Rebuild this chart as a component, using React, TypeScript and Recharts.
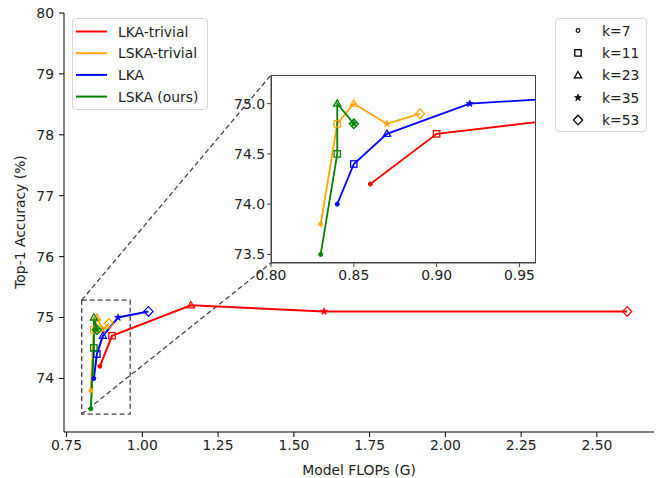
import React from 'react';
import { LineChart, Line, XAxis, YAxis, ReferenceArea, ReferenceLine } from 'recharts';

// kernel sizes (marker per point)
const KERNELS = [7, 11, 23, 35, 53];

const LKA_TRIVIAL_FLOPS = [0.86, 0.9, 1.16, 1.6, 2.6];
const LKA_TRIVIAL_ACC = [74.2, 74.7, 75.2, 75.1, 75.1];
const LSKA_TRIVIAL_FLOPS = [0.83, 0.84, 0.85, 0.87, 0.89];
const LSKA_TRIVIAL_ACC = [73.8, 74.8, 75.0, 74.8, 74.9];
const LKA_FLOPS = [0.84, 0.85, 0.87, 0.92, 1.02];
const LKA_ACC = [74.0, 74.4, 74.7, 75.0, 75.1];
const LSKA_FLOPS = [0.83, 0.84, 0.84, 0.85, 0.85];
const LSKA_ACC = [73.5, 74.5, 75.0, 74.8, 74.8];

const SERIES_NAMES = ['LKA-trivial', 'LSKA-trivial', 'LKA', 'LSKA (ours)'];
const SERIES_COLORS = ['#ff0000', '#ffa500', '#0000ff', '#008000'];

const MAIN_X_TICKS = [0.75, 1.0, 1.25, 1.5, 1.75, 2.0, 2.25, 2.5];
const MAIN_Y_TICKS = [74, 75, 76, 77, 78, 79, 80];
const INSET_X_TICKS = [0.8, 0.85, 0.9, 0.95];
const INSET_Y_TICKS = [73.5, 74.0, 74.5, 75.0];

const MAIN_X_DOMAIN = [0.7415, 2.6885];
const MAIN_Y_DOMAIN = [73.12, 80];
const INSET_X_DOMAIN = [0.8, 0.96];
const INSET_Y_DOMAIN = [73.415, 75.285];

const toPoints = (xs: number[], ys: number[]) =>
  xs.map((x, i) => ({ x, y: ys[i], k: KERNELS[i] }));

const series = [
  toPoints(LKA_TRIVIAL_FLOPS, LKA_TRIVIAL_ACC),
  toPoints(LSKA_TRIVIAL_FLOPS, LSKA_TRIVIAL_ACC),
  toPoints(LKA_FLOPS, LKA_ACC),
  toPoints(LSKA_FLOPS, LSKA_ACC),
].map((data, i) => ({ name: SERIES_NAMES[i], color: SERIES_COLORS[i], data }));

const FONT = '"DejaVu Sans", sans-serif';
const FS = 13.9;

// main plot box in page pixels
const PLOT = { left: 64, top: 13, width: 590, height: 419 };
// inset plot box in page pixels
const INSET = { left: 271, top: 75, width: 265, height: 188 };

const pxToX = (px: number) =>
  MAIN_X_DOMAIN[0] + ((px - PLOT.left) / PLOT.width) * (MAIN_X_DOMAIN[1] - MAIN_X_DOMAIN[0]);
const pxToY = (py: number) =>
  MAIN_Y_DOMAIN[1] - ((py - PLOT.top) / PLOT.height) * (MAIN_Y_DOMAIN[1] - MAIN_Y_DOMAIN[0]);

function starPoints(cx: number, cy: number, R: number, r: number) {
  const pts: string[] = [];
  for (let i = 0; i < 10; i++) {
    const rad = i % 2 === 0 ? R : r;
    const a = -Math.PI / 2 + (i * Math.PI) / 5;
    pts.push(`${cx + rad * Math.cos(a)},${cy + rad * Math.sin(a)}`);
  }
  return pts.join(' ');
}

function Marker({ cx, cy, k, color, hollowDot }: { cx: number; cy: number; k: number; color: string; hollowDot?: boolean }) {
  if (cx == null || cy == null) return null;
  const sw = 1.3;
  switch (k) {
    case 7:
      return hollowDot ? (
        <circle cx={cx} cy={cy} r={1.9} fill="none" stroke={color} strokeWidth={1.1} />
      ) : (
        <circle cx={cx} cy={cy} r={2} fill={color} stroke={color} strokeWidth={1} />
      );
    case 11:
      return <rect x={cx - 3.2} y={cy - 3.2} width={6.4} height={6.4} fill="none" stroke={color} strokeWidth={sw} />;
    case 23:
      return (
        <polygon
          points={`${cx},${cy - 3.8} ${cx + 3.6},${cy + 2.5} ${cx - 3.6},${cy + 2.5}`}
          fill="none"
          stroke={color}
          strokeWidth={sw}
        />
      );
    case 35:
      return <polygon points={starPoints(cx, cy, 3.8, 1.6)} fill={color} stroke={color} strokeWidth={0.6} />;
    case 53:
      return (
        <polygon
          points={`${cx},${cy - 4.8} ${cx + 4.6},${cy} ${cx},${cy + 4.8} ${cx - 4.6},${cy}`}
          fill="none"
          stroke={color}
          strokeWidth={sw}
        />
      );
    default:
      return null;
  }
}

function renderSeries(prefix: string, width: number) {
  return series.map((s) => (
    <Line
      key={`${prefix}-${s.name}`}
      data={s.data}
      dataKey="y"
      name={s.name}
      stroke={s.color}
      strokeWidth={width}
      type="linear"
      isAnimationActive={false}
      activeDot={false}
      legendType="none"
      dot={(p: any) => (
        <Marker key={`${prefix}-${s.name}-${p.index}`} cx={p.cx} cy={p.cy} k={p.payload.k} color={s.color} />
      )}
    />
  ));
}

const tickStyle = { fill: '#222', fontSize: FS, fontFamily: FONT };

function MainLegend() {
  return (
    <div
      style={{
        position: 'absolute', left: 72, top: 18, width: 136, height: 92,
        border: '1px solid #d6d6d6', borderRadius: 4, background: 'rgba(255,255,255,0.8)', boxSizing: 'border-box',
      }}
    >
      <svg width={136} height={92} style={{ position: 'absolute', left: -1, top: -1 }}>
        {series.map((s, i) => (
          <g key={s.name}>
            <line x1={4} x2={35} y1={13.5 + i * 21.7} y2={13.5 + i * 21.7} stroke={s.color} strokeWidth={2} />
            <text x={46} y={13.5 + i * 21.7} dominantBaseline="central" fontSize={FS} fontFamily={FONT} fill="#222">
              {s.name}
            </text>
          </g>
        ))}
      </svg>
    </div>
  );
}

function KernelLegend() {
  return (
    <div
      style={{
        position: 'absolute', left: 555, top: 18, width: 92, height: 114,
        border: '1px solid #d6d6d6', borderRadius: 4, background: 'rgba(255,255,255,0.8)', boxSizing: 'border-box',
      }}
    >
      <svg width={92} height={114} style={{ position: 'absolute', left: -1, top: -1 }}>
        {KERNELS.map((k, i) => (
          <g key={k}>
            <Marker cx={23} cy={12.5 + i * 22.4} k={k} color="#000" hollowDot />
            <text x={47} y={12.5 + i * 22.4} dominantBaseline="central" fontSize={FS} fontFamily={FONT} fill="#222">
              {`k=${k}`}
            </text>
          </g>
        ))}
      </svg>
    </div>
  );
}

export default function App() {
  const dash = '5 3';
  return (
    <div style={{ position: 'absolute', left: 0, top: 0, width: 663, height: 478, background: '#fff', fontFamily: FONT }}>
      <LineChart width={663} height={478} margin={{ top: PLOT.top, right: 9, left: 0, bottom: 0 }}>
        <XAxis
          type="number"
          dataKey="x"
          domain={MAIN_X_DOMAIN}
          allowDataOverflow
          ticks={MAIN_X_TICKS}
          tickFormatter={(v: number) => v.toFixed(2)}
          height={46}
          tickSize={5}
          tickMargin={3}
          stroke="#000"
          tick={tickStyle}
          label={{ value: 'Model FLOPs (G)', position: 'insideBottom', offset: 3, fill: '#222', fontSize: FS, fontFamily: FONT }}
        />
        <YAxis
          type="number"
          domain={MAIN_Y_DOMAIN}
          allowDataOverflow
          ticks={MAIN_Y_TICKS}
          width={PLOT.left}
          tickSize={5}
          tickMargin={5}
          stroke="#000"
          tick={tickStyle}
        />
        <ReferenceArea
          x1={INSET_X_DOMAIN[0]}
          x2={INSET_X_DOMAIN[1]}
          y1={INSET_Y_DOMAIN[0]}
          y2={INSET_Y_DOMAIN[1]}
          fill="none"
          stroke="#444"
          strokeWidth={1.3}
          strokeDasharray={dash}
        />
        <ReferenceLine
          segment={[
            { x: INSET_X_DOMAIN[0], y: INSET_Y_DOMAIN[1] },
            { x: pxToX(INSET.left), y: pxToY(INSET.top) },
          ]}
          stroke="#444"
          strokeWidth={1.3}
          strokeDasharray={dash}
        />
        <ReferenceLine
          segment={[
            { x: INSET_X_DOMAIN[0], y: INSET_Y_DOMAIN[0] },
            { x: pxToX(INSET.left), y: pxToY(INSET.top + INSET.height) },
          ]}
          stroke="#444"
          strokeWidth={1.3}
          strokeDasharray={dash}
        />
        {renderSeries('main', 2)}
      </LineChart>

      <svg width={40} height={478} style={{ position: 'absolute', left: 0, top: 0 }}>
        <text
          x={20}
          y={222}
          transform="rotate(-90 20 222)"
          textAnchor="middle"
          dominantBaseline="central"
          fontSize={FS}
          fontFamily={FONT}
          fill="#222"
        >
          Top-1 Accuracy (%)
        </text>
      </svg>

      {/* inset axes background + frame */}
      <div
        style={{
          position: 'absolute', left: INSET.left, top: INSET.top, width: INSET.width, height: INSET.height,
          background: '#fff', border: '1px solid #444', boxSizing: 'border-box',
        }}
      />
      <div style={{ position: 'absolute', left: INSET.left - 51, top: INSET.top - 5 }}>
        <LineChart width={51 + INSET.width + 2} height={5 + INSET.height + 30} margin={{ top: 5, right: 2, left: 0, bottom: 0 }}>
          <XAxis
            type="number"
            dataKey="x"
            domain={INSET_X_DOMAIN}
            allowDataOverflow
            ticks={INSET_X_TICKS}
            tickFormatter={(v: number) => v.toFixed(2)}
            height={30}
            tickSize={4}
            tickMargin={3}
            stroke="#444"
            tick={tickStyle}
          />
          <YAxis
            type="number"
            domain={INSET_Y_DOMAIN}
            allowDataOverflow
            ticks={INSET_Y_TICKS}
            tickFormatter={(v: number) => v.toFixed(1)}
            width={51}
            tickSize={4}
            tickMargin={2}
            stroke="#444"
            tick={tickStyle}
          />
          {renderSeries('inset', 1.8)}
        </LineChart>
      </div>

      <MainLegend />
      <KernelLegend />
    </div>
  );
}
